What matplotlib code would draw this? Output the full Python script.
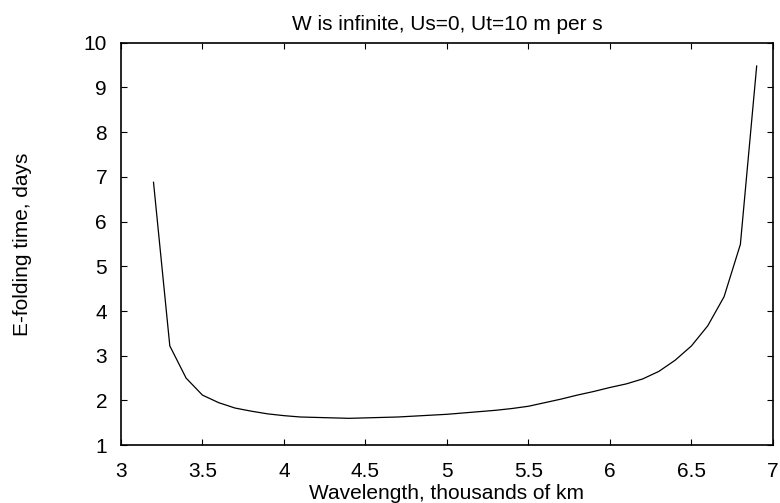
import matplotlib
matplotlib.use("Agg")
import matplotlib.pyplot as plt

plt.rcParams['font.family'] = ['Liberation Sans', 'DejaVu Sans']

wavelength = [3.2, 3.3, 3.4, 3.5, 3.6, 3.7, 3.8, 3.9, 4.0, 4.1, 4.2, 4.3, 4.4,
              4.5, 4.6, 4.7, 4.8, 4.9, 5.0, 5.1, 5.2, 5.3, 5.4, 5.5, 5.6, 5.7,
              5.8, 5.9, 6.0, 6.1, 6.2, 6.3, 6.4, 6.5, 6.6, 6.7, 6.8, 6.9]
efold = [6.88, 3.22, 2.50, 2.12, 1.95, 1.83, 1.76, 1.70, 1.66, 1.63, 1.62, 1.61,
         1.60, 1.61, 1.62, 1.63, 1.65, 1.67, 1.69, 1.72, 1.75, 1.78, 1.82, 1.87,
         1.95, 2.03, 2.12, 2.20, 2.29, 2.37, 2.48, 2.65, 2.90, 3.22, 3.67, 4.32,
         5.49, 9.48]

fig = plt.figure(figsize=(7.8, 5.03), dpi=100)
ax = fig.add_axes([0.155, 0.115, 0.836, 0.800])
ax.plot(wavelength, efold, 'k-', linewidth=0.9)
ax.set_xlim(3, 7)
ax.set_ylim(1, 10)
ax.set_xticks([3, 3.5, 4, 4.5, 5, 5.5, 6, 6.5, 7])
ax.set_xticklabels(['3', '3.5', '4', '4.5', '5', '5.5', '6', '6.5', '7'])
ax.set_yticks(range(1, 11))
ax.tick_params(direction='in', top=True, right=True, labelsize=15, length=4)
ax.tick_params(axis='x', pad=12)
ax.tick_params(axis='y', pad=10)
for s in ax.spines.values():
    s.set_linewidth(1.2)
ax.set_title("W is infinite, Us=0, Ut=10 m per s", fontsize=15, pad=9)
ax.set_xlabel("Wavelength, thousands of km", fontsize=15, labelpad=2)
ax.set_ylabel("E-folding time, days", fontsize=15)
ax.yaxis.set_label_coords(-0.136, 0.5)

fig.savefig("out.png", dpi=100)
